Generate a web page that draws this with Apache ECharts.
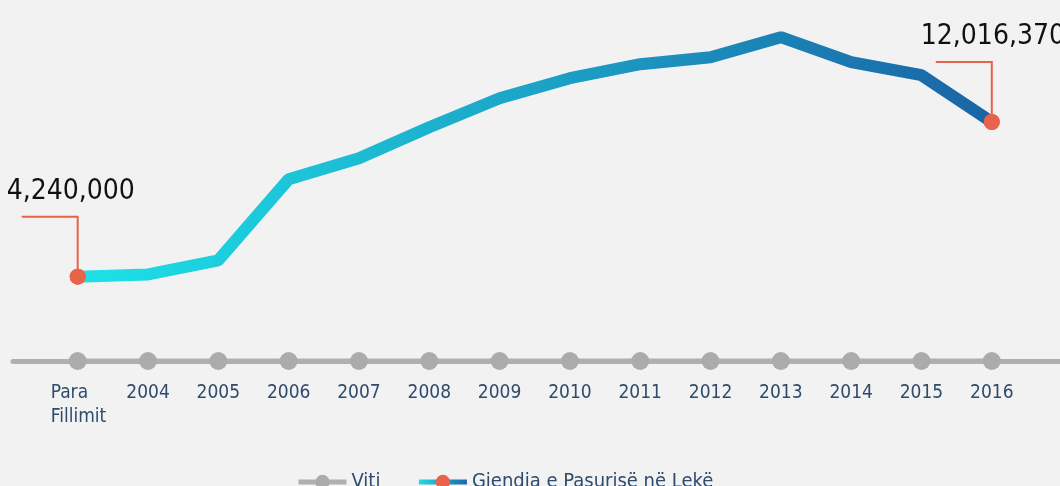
<!DOCTYPE html>
<html>
<head>
<meta charset="utf-8">
<script src="https://cdn.jsdelivr.net/npm/echarts@6/dist/echarts.min.js"></script>
<style>
  html, body { margin: 0; padding: 0; background: #f2f2f2; }
  #chart { width: 1060px; height: 486px; }
</style>
</head>
<body>
<div id="chart"></div>
<script>
const categories = ['Para\nFillimit', '2004', '2005', '2006', '2007', '2008', '2009',
  '2010', '2011', '2012', '2013', '2014', '2015', '2016']
const wealth = [4240000, 4350000, 5065000, 9140000, 10196000, 11755000, 13214000,
  14220000, 14924000, 15276000, 16282000, 15025000, 14371000, 12016370]
const annotated = [0, 13]

const FONT = "'DejaVu Sans Condensed', 'Liberation Sans Narrow', sans-serif"
const RED = '#e8634a'
const last = wealth.length - 1

const chart = echarts.init(document.getElementById('chart'))

const idx = categories.map((c, i) => i)

const option = {
  backgroundColor: '#f2f2f2',
  animation: false,
  grid: { left: 13, right: 0, top: 3, bottom: 125 },
  xAxis: {
    type: 'value',
    min: -0.92,
    max: 13.97,
    axisLine: { show: true, lineStyle: { color: '#b0b0b0', width: 5 } },
    axisTick: { show: false },
    splitLine: { show: false },
    axisLabel: {
      customValues: idx,
      margin: 20,
      fontFamily: FONT,
      fontSize: 19,
      lineHeight: 24,
      color: '#2f4b6c',
      formatter: (v) => {
        const name = categories[Math.round(v)]
        if (name.indexOf('\n') >= 0) {
          return name.split('\n').map(s => '{l|' + s + '}').join('\n')
        }
        return name
      },
      rich: {
        l: { width: 54, align: 'left', fontFamily: FONT, fontSize: 19, lineHeight: 24, color: '#2f4b6c' }
      }
    }
  },
  yAxis: {
    type: 'value',
    min: 0,
    max: 18000000,
    show: false
  },
  legend: {
    data: ['Viti', 'Gjendja e Pasurisë në Lekë'],
    top: 467,
    left: 291,
    itemWidth: 48,
    itemHeight: 18,
    itemGap: 36,
    lineStyle: { width: 5 },
    textStyle: { fontFamily: FONT, fontSize: 20, color: '#2f4b6c' }
  },
  series: [
    {
      name: 'Viti',
      type: 'line',
      data: idx.map(i => [i, 0]),
      symbol: 'circle',
      symbolSize: 18,
      itemStyle: { color: '#ababab' },
      lineStyle: { color: '#b0b0b0', width: 5 },
      z: 2
    },
    {
      name: 'Gjendja e Pasurisë në Lekë',
      type: 'line',
      data: wealth.map((v, i) => ({
        value: [i, v],
        symbol: (i === 0 || i === last) ? 'circle' : 'none'
      })),
      showAllSymbol: true,
      symbol: 'circle',
      symbolSize: 16,
      itemStyle: { color: RED, borderWidth: 0 },
      lineStyle: {
        width: 12,
        color: new echarts.graphic.LinearGradient(0, 0, 1, 0, [
          { offset: 0, color: '#1de3e8' },
          { offset: 1, color: '#1a63a5' }
        ])
      },
      z: 3
    },
    {
      // callout lines + value labels for first and last point
      type: 'custom',
      data: annotated.map(i => [i, wealth[i]]),
      z: 4,
      renderItem: (params, api) => {
        const p = api.coord([api.value(0), api.value(1)])
        return {
          type: 'group',
          children: [
            {
              type: 'polyline',
              shape: { points: [[p[0], p[1]], [p[0], p[1] - 60], [p[0] - 56, p[1] - 60]] },
              style: { stroke: RED, lineWidth: 2, fill: null },
              z2: 0
            },
            {
              type: 'circle',
              shape: { cx: p[0], cy: p[1], r: 8 },
              style: { fill: RED },
              z2: 2
            },
            {
              type: 'text',
              style: {
                text: api.value(1).toLocaleString('en-US'),
                x: p[0] - 71,
                y: p[1] - 71,
                align: 'left',
                verticalAlign: 'bottom',
                font: '28px ' + FONT,
                fill: '#111111'
              }
            }
          ]
        }
      }
    }
  ]
}

chart.setOption(option)
window.addEventListener('resize', () => chart.resize())
</script>
</body>
</html>
